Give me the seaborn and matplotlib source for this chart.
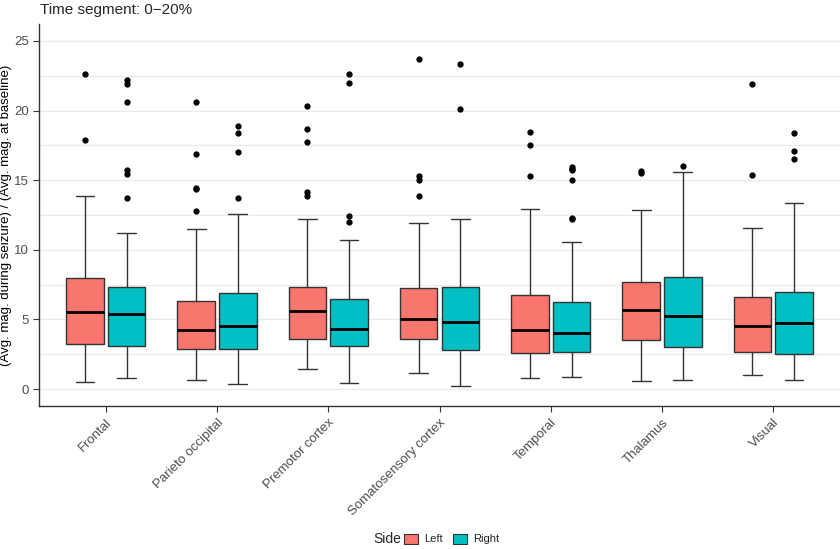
import pandas as pd
import matplotlib.pyplot as plt
import seaborn as sns
from matplotlib.patches import Patch
from matplotlib.ticker import MultipleLocator

regions = ["Frontal", "Parieto occipital", "Premotor cortex",
           "Somatosensory cortex", "Temporal", "Thalamus", "Visual"]
sides = ["Left", "Right"]
colors = ["#F8766D", "#00BFC4"]

# box summaries: lower whisker, q1, median, q3, upper whisker, outliers
left_low = [0.48, 0.67, 1.44, 1.17, 0.81, 0.57, 0.98]
left_q1 = [3.23, 2.85, 3.62, 3.57, 2.56, 3.54, 2.68]
left_med = [5.53, 4.26, 5.58, 5.05, 4.26, 5.70, 4.50]
left_q3 = [8.00, 6.35, 7.33, 7.28, 6.75, 7.66, 6.63]
left_high = [13.86, 11.49, 12.24, 11.95, 12.93, 12.86, 11.59]
left_out = [[22.65, 17.91],
            [20.64, 16.86, 14.46, 14.39, 12.81],
            [20.31, 18.65, 17.72, 14.15, 13.86],
            [23.68, 15.33, 15.04, 13.84],
            [18.49, 17.55, 15.28],
            [15.64, 15.49],
            [21.91, 15.40]]

right_low = [0.76, 0.36, 0.43, 0.24, 0.86, 0.65, 0.65]
right_q1 = [3.12, 2.85, 3.11, 2.80, 2.68, 2.99, 2.49]
right_med = [5.36, 4.50, 4.33, 4.79, 4.02, 5.24, 4.72]
right_q3 = [7.33, 6.90, 6.47, 7.33, 6.27, 8.07, 6.94]
right_high = [11.23, 12.55, 10.70, 12.19, 10.54, 15.61, 13.39]
right_out = [[22.22, 21.93, 20.59, 15.71, 15.44, 13.75],
             [18.87, 18.41, 17.00, 13.75],
             [22.65, 21.96, 12.43, 12.02],
             [23.35, 20.14],
             [15.95, 15.83, 15.71, 14.99, 12.30, 12.20],
             [16.02],
             [18.41, 17.10, 16.52]]


def expand(low, q1, med, q3, high, out):
    # a sample of 4m+1 values whose quartiles/whiskers reproduce the summary
    m = len(out) + 1
    return [low] + [q1] * m + [med] * m + [q3] * m + [high] + sorted(out)


rows = []
for side, stats in [("Left", (left_low, left_q1, left_med, left_q3, left_high, left_out)),
                    ("Right", (right_low, right_q1, right_med, right_q3, right_high, right_out))]:
    for i, region in enumerate(regions):
        vals = expand(*(s[i] for s in stats))
        rows += [{"region": region, "side": side, "value": v} for v in vals]
df = pd.DataFrame(rows)

sns.set_style("ticks")
plt.rcParams["font.family"] = ["Liberation Sans", "DejaVu Sans"]

fig = plt.figure(figsize=(8.4, 5.49), dpi=100)
ax = fig.add_axes([39 / 840, 1 - 406 / 549, 801 / 840, 382 / 549])

sns.boxplot(
    data=df, x="region", y="value", hue="side", order=regions, hue_order=sides,
    palette=colors, saturation=1, width=0.75, gap=0.1, whis=1.5,
    linecolor="#333333", linewidth=1.0,
    medianprops=dict(color="black", linewidth=2),
    flierprops=dict(marker="o", markersize=3.5, markerfacecolor="black",
                    markeredgecolor="black"),
    legend=False, ax=ax, zorder=3,
)

ax.set_xlim(-0.6, 6.6)
ax.set_ylim(-1.22, 26.22)
ax.yaxis.set_major_locator(MultipleLocator(5))
ax.yaxis.set_minor_locator(MultipleLocator(2.5))
ax.grid(axis="y", which="both", color="#EBEBEB", linewidth=0.9, zorder=0)
ax.set_axisbelow(True)
sns.despine(ax=ax)
for sp in ["left", "bottom"]:
    ax.spines[sp].set_color("#333333")
    ax.spines[sp].set_linewidth(1.0)
ax.tick_params(axis="both", which="major", length=4, color="#333333",
               labelcolor="#4D4D4D", labelsize=9.5)
ax.tick_params(axis="y", which="minor", length=0)
ax.set_xticks(range(len(regions)))
ax.set_xticklabels(regions, rotation=45, ha="right", rotation_mode="anchor")
ax.set_xlabel("")
ax.set_ylabel("(Avg. mag. during seizure) / (Avg. mag. at baseline)",
              fontsize=9.5, color="black")
ax.yaxis.set_label_coords(-27 / 801, 0.5)

fig.text(40 / 840, 1 - 3 / 549, "Time segment: 0\u221220%", fontsize=11,
         va="top", ha="left")

fig.text(373 / 840, 1 - 539 / 549, "Side", fontsize=10, va="center", ha="left")
handles = [Patch(facecolor=c, edgecolor="#333333", linewidth=0.8) for c in colors]
fig.legend(handles, sides, loc="center left", bbox_to_anchor=(404 / 840, 1 - 539 / 549),
           ncol=2, frameon=False, fontsize=8, handlelength=1.3, handleheight=1.0,
           handletextpad=0.5, columnspacing=0.9, borderpad=0, borderaxespad=0)

fig.savefig("out.png", dpi=100)
